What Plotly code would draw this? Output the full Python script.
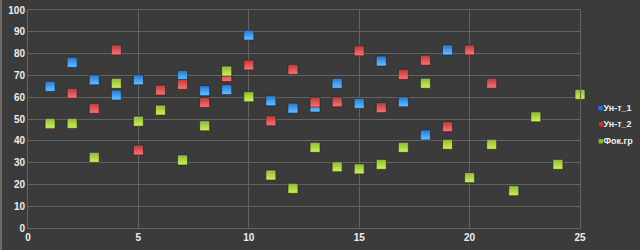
import plotly.graph_objects as go

x1 = [1, 2, 3, 4, 5, 7, 8, 9, 10, 11, 12, 13, 14, 15, 16, 17, 18, 19]
un1 = [65, 76, 68, 61, 68, 70, 63, 63.5, 88.5, 58.4, 55, 55.5, 66.4, 57.2, 76.6, 57.9, 42.7, 81.7]

x2 = [1, 2, 3, 4, 5, 6, 7, 8, 9, 10, 11, 12, 13, 14, 15, 16, 17, 18, 19, 20, 21]
un2 = [47.5, 61.8, 54.9, 81.7, 35.8, 63.3, 65.9, 57.6, 69.5, 74.8, 49.2, 72.8, 57.8, 57.9, 81.3, 55.2, 70.5, 77, 46.5, 81.7, 66.4]

x3 = list(range(1, 26))
fok = [48, 48, 32.4, 66.4, 49, 54.1, 31.2, 46.9, 72, 60.2, 24.3, 18.2, 37, 28.1, 27.1, 29.2, 37, 66.4, 38.4, 23.1, 38.4, 17.1, 51, 29.2, 61.3]

xticks = [0, 5, 10, 15, 20, 25]
yticks = list(range(0, 101, 10))

names = ["Ун-т_1", "Ун-т_2", "Фок.гр"]
colors = ["#1a78d4", "#c43434", "#8fba2a"]
light = ["#6fc0ff", "#f07a7a", "#cfee6a"]

fig = go.Figure()
for xs, ys, nm, c, lc in zip([x1, x2, x3], [un1, un2, fok], names, colors, light):
    fig.add_trace(go.Scatter(
        x=xs, y=ys, mode="markers", name=nm, cliponaxis=False, showlegend=False,
        marker=dict(symbol="square", size=10, color=c,
                    gradient=dict(type="vertical", color=lc),
                    line=dict(color="#222222", width=0.6)),
    ))

axis_common = dict(
    showgrid=True, gridcolor="#636363", gridwidth=1,
    zeroline=False, showline=True, linecolor="#636363", mirror=True,
    tickfont=dict(family="Liberation Sans, Arial", size=10, color="#eeeeee"),
    ticks="", fixedrange=True,
)

fig.update_xaxes(range=[0, 25], tickvals=xticks, ticktext=["<b>%d</b>" % v for v in xticks], **axis_common)
fig.update_yaxes(range=[0, 100], tickvals=yticks, ticktext=["<b>%d</b>" % v for v in yticks], **axis_common)

# legend built as text entries (coloured square glyph + series name)
legend_y = [0.552, 0.476, 0.400]
annotations = []
for nm, c, ly in zip(names, colors, legend_y):
    annotations.append(dict(
        xref="paper", yref="paper", x=(596 - 28) / 552, y=ly,
        xanchor="left", yanchor="middle", showarrow=False,
        text="<span style='color:%s'>■</span><b>%s</b>" % (c, nm),
        font=dict(family="Liberation Sans, Arial", size=9, color="#eeeeee"),
    ))

fig.update_layout(
    width=640, height=250,
    margin=dict(l=28, r=60, t=10, b=22, autoexpand=False),
    paper_bgcolor="#3b3b3b", plot_bgcolor="#3b3b3b",
    font=dict(family="Liberation Sans, Arial", color="#eeeeee"),
    showlegend=False,
    annotations=annotations,
    shapes=[dict(type="line", xref="paper", yref="paper",
                 x0=-27/552, x1=-27/552, y0=-22/218, y1=10/218+1,
                 line=dict(color="#6a6a6a", width=2))],
)

fig.write_html("out.html")
